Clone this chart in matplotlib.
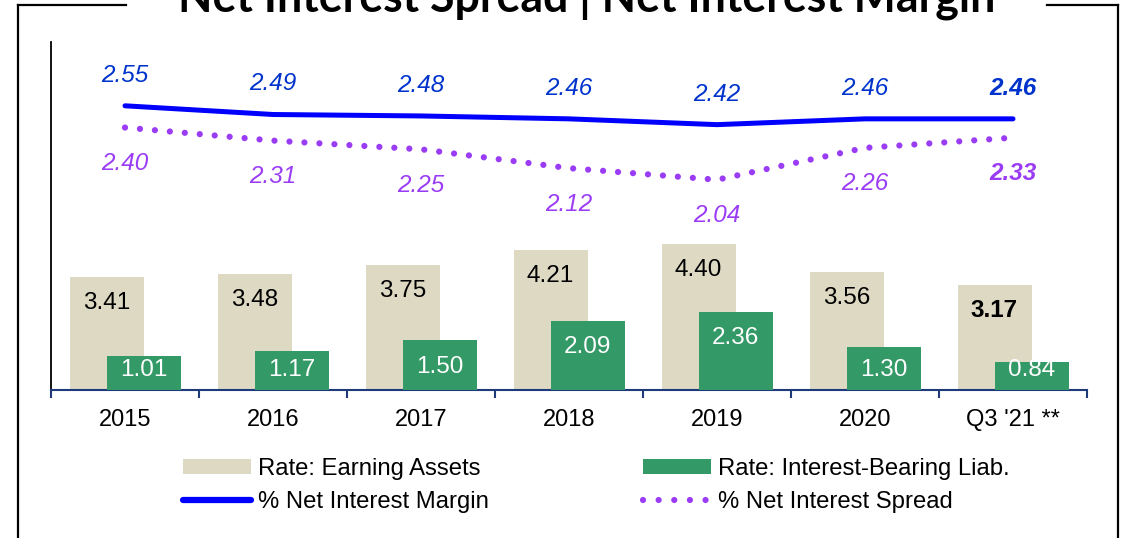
import matplotlib
matplotlib.use("Agg")
import matplotlib.pyplot as plt
from matplotlib.lines import Line2D
from matplotlib.patches import Patch
import numpy as np

categories = ["2015", "2016", "2017", "2018", "2019", "2020", "Q3 '21 **"]
earning_assets = [3.41, 3.48, 3.75, 4.21, 4.40, 3.56, 3.17]
interest_liab = [1.01, 1.17, 1.50, 2.09, 2.36, 1.30, 0.84]
net_margin = [2.55, 2.49, 2.48, 2.46, 2.42, 2.46, 2.46]
net_spread = [2.40, 2.31, 2.25, 2.12, 2.04, 2.26, 2.33]

BEIGE = "#DDD9C3"
GREEN = "#339966"
BLUE_LINE = "#0000FF"
BLUE_TXT = "#0033CC"
PURPLE = "#9B3CF5"
NAVY = "#1F3A7A"

plt.rcParams['font.family'] = ['Liberation Sans', 'DejaVu Sans']

W, H = 1127, 538
fig = plt.figure(figsize=(W / 100, H / 100), dpi=100)

def fx(px):
    return px / W

def fy(py):
    return 1 - py / H

ax = fig.add_axes([fx(51), fy(390), fx(1087) - fx(51), fy(42) - fy(390)])
ax2 = ax.twinx()

x = np.arange(len(categories))
ax.bar(x - 0.125, earning_assets, width=0.5, color=BEIGE, zorder=2)
ax.bar(x + 0.125, interest_liab, width=0.5, color=GREEN, zorder=3)
ax.set_ylim(0, 10.48)
ax.set_xlim(-0.5, len(categories) - 0.5)

n = len(categories)
for i, v in enumerate(earning_assets):
    ax.text(i - 0.125, v - 0.78, f"{v:.2f}", ha='center', va='center',
            fontsize=17.5, color='black', zorder=5,
            fontweight='bold' if i == n - 1 else 'normal')
for i, v in enumerate(interest_liab):
    ax.text(i + 0.125, max(v - 0.8, 0.6), f"{v:.2f}", ha='center', va='center',
            fontsize=17.5, color='white', zorder=5)

ax2.plot(x, net_margin, color=BLUE_LINE, lw=3.6, solid_capstyle='round', zorder=4)
ax2.plot(x, net_spread, color=PURPLE, lw=4.5, linestyle=(0, (0.001, 2.4)),
         dash_capstyle='round', zorder=4)
ax2.set_ylim(0.59, 2.99)

for i, v in enumerate(net_margin):
    ax2.annotate(f"{v:.2f}", (i, v), xytext=(0, 22), textcoords='offset points',
                 ha='center', va='center', fontsize=17.5, color=BLUE_TXT,
                 style='italic', fontweight='bold' if i == n - 1 else 'normal')
for i, v in enumerate(net_spread):
    ax2.annotate(f"{v:.2f}", (i, v), xytext=(0, -26), textcoords='offset points',
                 ha='center', va='center', fontsize=17.5, color=PURPLE,
                 style='italic', fontweight='bold' if i == n - 1 else 'normal')

for a in (ax, ax2):
    a.spines['top'].set_visible(False)
    a.spines['right'].set_visible(False)
    a.set_yticks([])
ax2.spines['left'].set_visible(False)
ax2.spines['bottom'].set_visible(False)
ax.spines['left'].set_color('black')
ax.spines['left'].set_linewidth(1.3)
ax.spines['bottom'].set_color(NAVY)
ax.spines['bottom'].set_linewidth(1.5)

ax.set_xticks(x)
ax.set_xticklabels(categories, fontsize=17)
ax.tick_params(axis='x', which='major', length=0, pad=14)
ax.set_xticks(np.arange(-0.5, n, 1.0), minor=True)
ax.tick_params(axis='x', which='minor', length=6, width=1.5, color=NAVY, direction='out')

# Title
title = fig.text(fx(586.5), fy(12), "Net Interest Spread | Net Interest Margin",
                 ha='center', va='baseline', fontsize=24, fontweight='bold',
                 family=['Lato', 'DejaVu Sans'])
fig.canvas.draw()
bb = title.get_window_extent()
title.set_fontsize(24 * 817 / bb.width)

# Frame
fl = dict(color='black', lw=1.6, transform=fig.transFigure, clip_on=False)
fig.add_artist(Line2D([fx(18), fx(126)], [fy(5), fy(5)], **fl))
fig.add_artist(Line2D([fx(18), fx(18)], [fy(5), fy(540)], **fl))
fig.add_artist(Line2D([fx(1047), fx(1118)], [fy(5), fy(5)], **fl))
fig.add_artist(Line2D([fx(1118), fx(1118)], [fy(5), fy(540)], **fl))

handles = [
    Patch(facecolor=BEIGE, edgecolor='none'),
    Line2D([], [], color=BLUE_LINE, lw=4.5, solid_capstyle='round'),
    Patch(facecolor=GREEN, edgecolor='none'),
    Line2D([], [], color=PURPLE, lw=4.5, linestyle=(0, (0.001, 2.5)), dash_capstyle='round'),
]
labels = ["Rate: Earning Assets", "% Net Interest Margin",
          "Rate: Interest-Bearing Liab.", "% Net Interest Spread"]
leg = fig.legend(handles, labels, ncol=2, loc='upper left',
                 bbox_to_anchor=(fx(183), fy(458)), frameon=False,
                 fontsize=17.2, handlelength=2.85, handleheight=0.6,
                 handletextpad=0.3, columnspacing=6.45, labelspacing=0.45,
                 borderpad=0, borderaxespad=0)

fig.savefig("out.png", dpi=100)
